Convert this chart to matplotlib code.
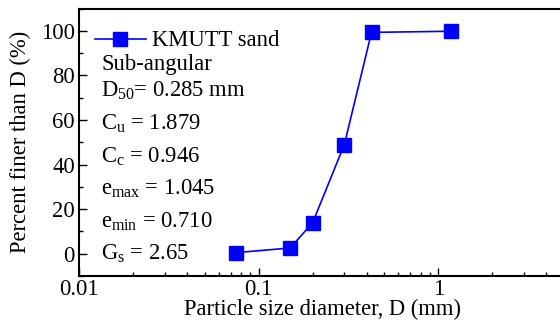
import numpy as np
import matplotlib.pyplot as plt

plt.rcParams['font.family'] = 'Liberation Serif'
plt.rcParams['mathtext.fontset'] = 'custom'
plt.rcParams['mathtext.rm'] = 'Liberation Serif'
plt.rcParams['mathtext.it'] = 'Liberation Serif:italic'

# Grain size distribution data
diameter = [0.075, 0.15, 0.2, 0.3, 0.425, 1.18]
percent_finer = [0.5, 2.6, 14, 49, 99.3, 99.8]

props = ['Sub-angular',
         r'D$_{\mathrm{50}}$= 0.285 mm',
         r'C$_{\mathrm{u}}$ = 1.879',
         r'C$_{\mathrm{c}}$ = 0.946',
         r'e$_{\mathrm{max}}$ = 1.045',
         r'e$_{\mathrm{min}}$ = 0.710',
         r'G$_{\mathrm{s}}$ = 2.65']

fs = 16.3

fig = plt.figure(figsize=(5.6, 3.21), dpi=100)
ax = fig.add_axes([0.141, 0.140, 0.9625, 0.8335])

ax.plot(diameter, percent_finer, color='#0000ff', linewidth=1.2,
        marker='s', markersize=9.5, label='KMUTT sand')

ax.set_xscale('log')
ax.set_xlim(0.01, 10)
ax.set_ylim(-10, 110)
ax.set_yticks([0, 20, 40, 60, 80, 100])
ax.set_yticks([-10, 10, 30, 50, 70, 90, 110], minor=True)
ax.set_xticks([0.01, 0.1, 1])
ax.set_xticklabels(['0.01', '0.1', '1'])

ax.tick_params(which='both', direction='in', labelsize=fs, width=1)
ax.tick_params(which='major', length=6)
ax.tick_params(which='minor', length=3)
ax.tick_params(axis='y', pad=3)
ax.tick_params(axis='x', pad=2)
for s in ['top', 'bottom', 'left', 'right']:
    ax.spines[s].set_linewidth(1.5)

ax.set_xlabel('Particle size diameter, D (mm)', fontsize=fs)
ax.set_ylabel('Percent finer than D (%)', fontsize=fs)
ax.xaxis.set_label_coords(0.451, -0.165)
ax.yaxis.set_label_coords(-0.109, 0.5)
ax.xaxis.label.set_va('bottom')
ax.yaxis.label.set_va('center')

ax.legend(loc='upper left', frameon=False, fontsize=fs, handlelength=2.25,
          handletextpad=0.27, borderpad=0.0, borderaxespad=0.0,
          bbox_to_anchor=(0.0297, 0.918))

ys = [0.770, 0.669, 0.546, 0.425, 0.303, 0.181, 0.060]
for txt, y in zip(props, ys):
    ax.text(0.041, y, txt, transform=ax.transAxes, fontsize=fs,
            va='baseline', ha='left')

plt.savefig('out.png', dpi=100)
